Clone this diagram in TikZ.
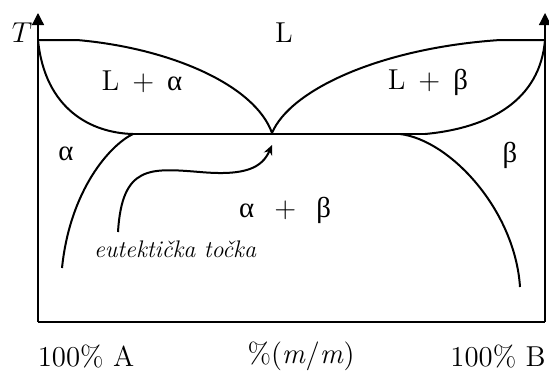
\documentclass[tikz,border=0pt]{standalone}
\usepackage{fontspec}
\newfontfamily\grk{Liberation Serif}
\usepackage{tikz}
\usetikzlibrary{arrows.meta,positioning,calc}

\begin{document}
\begin{tikzpicture}[x=0.5pt, y=-0.5pt, every node/.style={font=\Large, inner sep=0pt},
    axis/.style={line width=0.65pt, -{Triangle[length=6pt,width=6pt]}},
    curve/.style={line width=1pt}]
        \useasboundingbox (0,0) rectangle (549,371);
        % axes and frame
        \coordinate (o) at (38,322);
        \coordinate (r) at (545,322);
        \draw[axis] (o) -- (38,13);
        \draw[axis] (r) -- (545,13);
        \draw[line width=0.65pt] (o) -- (r);
        % key points
        \coordinate (tA) at (38,40);
        \coordinate (tB) at (545,40);
        \coordinate (eut) at (272,133);
        \coordinate (sa) at (133,134);
        \coordinate (sb) at (425,134);
        % liquidus
        \draw[curve] (tA) -- (77,40) .. controls (170,48) and (255,85) .. (eut);
        \draw[curve] (eut) .. controls (290,90) and (380,48) .. (500,40) -- (tB);
        % solidus
        \draw[curve] (tA) .. controls (45,110) and (92,133) .. (sa);
        \draw[curve] (sb) .. controls (490,128) and (540,100) .. (tB);
        \draw[line width=1.3pt] (sa) -- (sb);
        % solvus
        \draw[curve] (sa) .. controls (110,145) and (70,190) .. (62,268);
        \draw[curve] (400,134) .. controls (450,140) and (515,210) .. (520,287);
        % labels
        \node (T) at (22,33) {$T$};
        \node (L) at (284,33) {L};
        \node (La) at (142,82) {L\hspace{0.45em}+\hspace{0.45em}{\grk α}};
        \node (Lb) at (428,82) {L\hspace{0.45em}+\hspace{0.45em}{\grk β}};
        \node (a) at (66,154) {\grk α};
        \node (b) at (510,155) {\grk β};
        \node (ab) at (285,210) {{\grk α}\hspace{0.7em}+\hspace{0.7em}{\grk β}};
        \node[font=\large\itshape] (eutlabel) at (175,249) {eutektička točka};
        \coordinate (start) at (118,232);
        \draw[line width=1pt, -{Stealth[length=5pt,width=4.5pt]}] (start)
          .. controls (122,165) and (150,168) .. (200,172)
          .. controls (245,176) and (262,168) .. ($(eut)+(0,12)$);
        \node (pA) at (86,356) {100\% A};
        \node (pm) at (301,356) {\%(\textit{m}/\textit{m})};
        \node (pB) at (498,356) {100\% B};
      \end{tikzpicture}
\end{document}
